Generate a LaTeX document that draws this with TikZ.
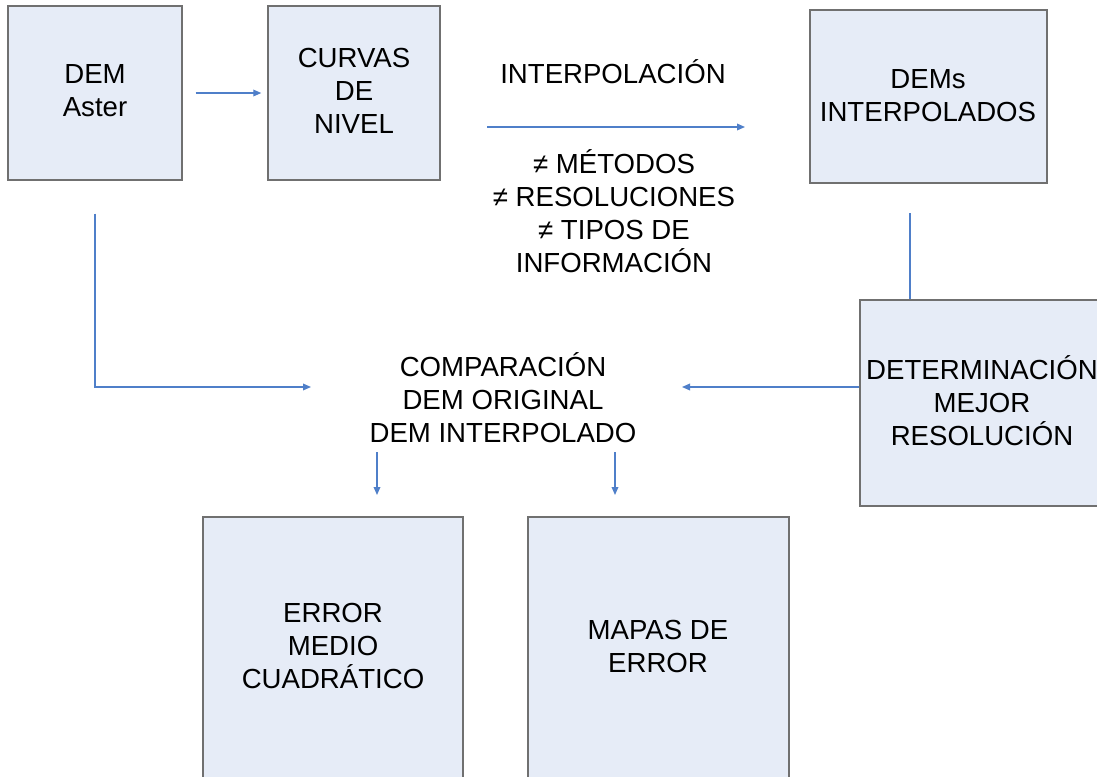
\documentclass[tikz,border=0pt]{standalone}
\usepackage{fontspec}
\setmainfont{Liberation Sans}
\usetikzlibrary{arrows.meta,fit,calc}
\definecolor{boxfill}{HTML}{E6ECF7}
\definecolor{boxline}{HTML}{707070}
\definecolor{conblue}{HTML}{4F7FC9}
\begin{document}
\begin{tikzpicture}[x=0.75pt,y=-0.75pt,
  box/.style={draw=boxline,fill=boxfill,line width=1.1pt,inner sep=0pt},
  lbl/.style={align=center,inner sep=0pt,font=\fontsize{20.7}{24.75}\selectfont},
  conn/.style={draw=conblue,line width=0.95pt,-{Triangle[length=6pt,width=5pt]}},
  plainline/.style={draw=conblue,line width=0.95pt}]
\useasboundingbox (0,0) rectangle (1097,776);
\clip (0,0) rectangle (1097,776);
\fill[white] (0,0) rectangle (1097,776);
% boxes
\node[box,fit={(8,6) (182,180)}] (dem) {};
\node[box,fit={(268,6) (440,180)}] (curvas) {};
\node[box,fit={(810,10) (1047,183)}] (dems) {};
\node[box,fit={(860,300) (1104,506)}] (deter) {};
\node[box,fit={(203,517) (463,790)}] (ecm) {};
\node[box,fit={(528,517) (789,790)}] (mapas) {};
% labels
\node[lbl] (tdem) at (95,91) {DEM\\Aster};
\node[lbl] (tcurvas) at (354,91) {CURVAS\\DE\\NIVEL};
\node[lbl] (tdems) at (928,96) {DEMs\\INTERPOLADOS};
\node[lbl] (tdeter) at (982,401) {DETERMINACIÓN\\MEJOR\\RESOLUCIÓN};
\node[lbl] (tecm) at (333,646) {ERROR\\MEDIO\\CUADRÁTICO};
\node[lbl] (tmapas) at (658,646) {MAPAS DE\\ERROR};
\node[lbl] (tinterp) at (613,72) {INTERPOLACIÓN};
\node[lbl] (tdif) at (614,211) {≠ MÉTODOS\\≠ RESOLUCIONES\\≠ TIPOS DE\\INFORMACIÓN};
\node[lbl] (comp) at (503,398) {COMPARACIÓN\\DEM ORIGINAL\\DEM INTERPOLADO};
% coordinates
\coordinate (i1) at (487,127);
\coordinate (i2) at (745,127);
\coordinate (d1) at (910,213);
\coordinate (c1) at (311,387);
\coordinate (c2) at (682,387);
\coordinate (a1) at (377,452);
\coordinate (a2) at (377,495);
\coordinate (b1) at (615,452);
\coordinate (b2) at (615,495);
% connectors
\draw[conn] ($(dem.east)+(13,0)$) -- ($(curvas.west)+(-6,0)$);
\draw[conn] (i1) -- (i2);
\draw[plainline] (d1) -- (d1 |- deter.north);
\draw[conn] ($(dem.south)+(0,33)$) |- (c1);
\draw[conn] (c2 -| deter.west) -- (c2);
\draw[conn] (a1) -- (a2);
\draw[conn] (b1) -- (b2);
\end{tikzpicture}
\end{document}
